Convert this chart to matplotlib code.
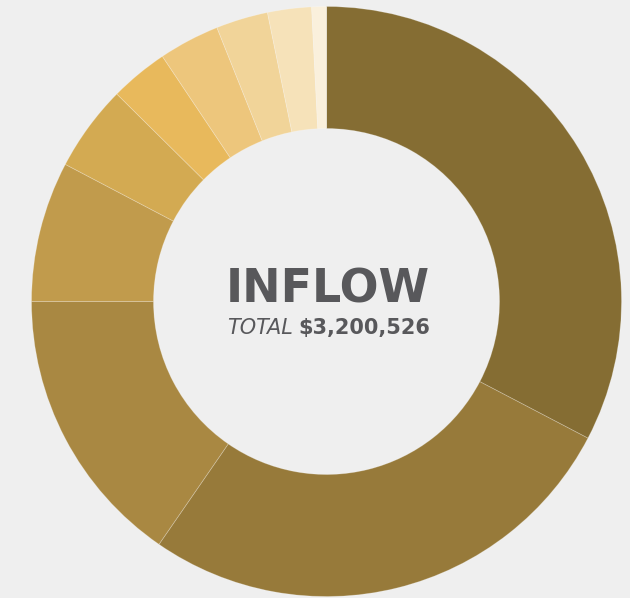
import matplotlib.pyplot as plt

# inflow by source (clockwise from 12 o'clock)
amounts = [1045505, 862364, 492525, 246263, 151136, 102239, 106684, 91126, 76902, 25782]
colors = ['#856d33', '#977a3a', '#a98842', '#c19b4c', '#d3aa52',
          '#e8b95c', '#edc67c', '#f1d499', '#f6e2b9', '#faf0dc']
title = "INFLOW"
total_label = "TOTAL"
total_value = "$3,200,526"

W, H = 630, 598
fig = plt.figure(figsize=(W / 100, H / 100), dpi=100)
fig.patch.set_facecolor('#efefef')
ax = fig.add_axes([0, 0, 1, 1])
ax.set_facecolor('#efefef')

cx, cy = 326.5, H - 301.5
r_out, r_in = 295, 173
ax.pie(amounts, colors=colors, startangle=90, counterclock=False,
       center=(cx, cy), radius=r_out, frame=True,
       wedgeprops=dict(width=r_out - r_in, edgecolor=(1, 1, 1, 0.25), linewidth=0.6))
ax.set_xlim(0, W)
ax.set_ylim(0, H)
ax.axis('off')

ax.text(327.5, H - 290, title, ha='center', va='center', fontsize=33,
        fontweight='bold', family='DejaVu Sans', color='#58585b')
ax.text(293, H - 328, total_label, ha='right', va='center', fontsize=15,
        style='italic', family='DejaVu Sans', color='#58585b')
ax.text(298, H - 328, total_value, ha='left', va='center', fontsize=15,
        fontweight='bold', family='DejaVu Sans', color='#58585b')

fig.savefig('out.png', dpi=100, facecolor=fig.get_facecolor())
